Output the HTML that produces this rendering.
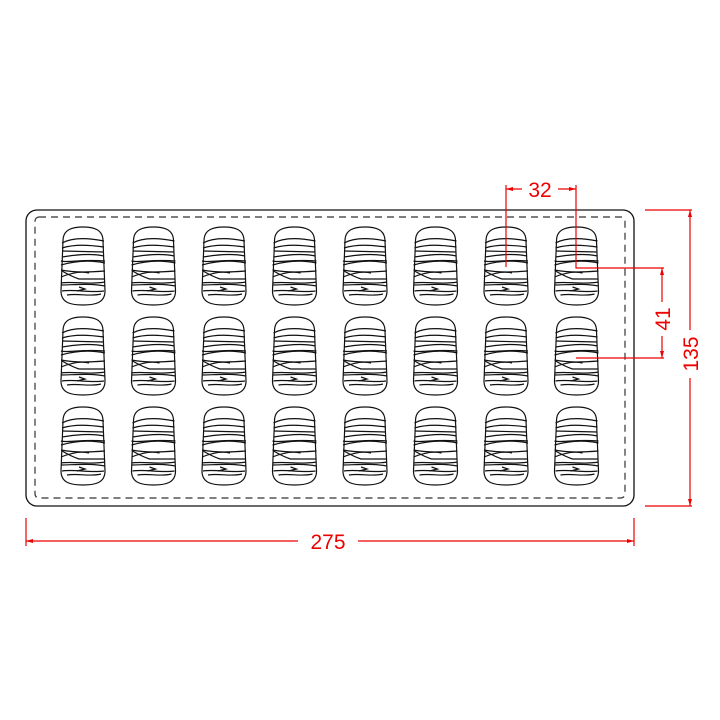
<!DOCTYPE html>
<html><head><style>html,body{margin:0;padding:0;background:#fff}svg{display:block}</style></head><body>
<svg width="720" height="720" viewBox="0 0 720 720" xmlns="http://www.w3.org/2000/svg">
<defs>
<g id="c" fill="none" stroke="#111" stroke-width="1.2">
<path d="M4,14 C4,2 14,0 24,0 C34,0 44,2 44,14 L46,64 C46,76 36,78 24,78 C12,78 2,76 2,64 Z" transform="translate(-24,-39)"/>
<g transform="translate(-24,-39)">
<path d="M3,16 C14,10 30,11 45,14"/>
<path d="M3,21 C16,17 30,18 45,20"/>
<path d="M3,24 L45,25"/>
<path d="M3,30 C14,28 32,26 45,29"/>
<path d="M2,34 C10,36 22,32 46,34"/>
<path d="M2,38 C16,34 32,33 46,36"/>
<path d="M2,43 C18,46 32,45 46,44"/>
<path d="M2,50 C12,46 22,44 30,46"/>
<path d="M3,44 C10,48 14,50 20,52 L46,52"/>
<path d="M2,56 C14,54 30,58 46,55"/>
<path d="M2,58 C14,58 30,56 46,59"/>
<path d="M3,64 C16,62 30,66 45,64"/>
<path d="M8,68 C20,66 30,70 42,67"/>
<path d="M20,60 L26,62 L18,64"/>
</g>
</g>
</defs>
<rect x="26" y="210" width="608" height="296" rx="11" fill="none" stroke="#111" stroke-width="1.3"/>
<rect x="35" y="217" width="590" height="281" rx="4" fill="none" stroke="#333" stroke-width="1.2" stroke-dasharray="7,5"/>
<g>
<use href="#c" x="83" y="266"/><use href="#c" x="153.5" y="266"/><use href="#c" x="224" y="266"/><use href="#c" x="294.5" y="266"/><use href="#c" x="365" y="266"/><use href="#c" x="435.5" y="266"/><use href="#c" x="506" y="266"/><use href="#c" x="576.5" y="266"/>
<use href="#c" x="83" y="356"/><use href="#c" x="153.5" y="356"/><use href="#c" x="224" y="356"/><use href="#c" x="294.5" y="356"/><use href="#c" x="365" y="356"/><use href="#c" x="435.5" y="356"/><use href="#c" x="506" y="356"/><use href="#c" x="576.5" y="356"/>
<use href="#c" x="83" y="446"/><use href="#c" x="153.5" y="446"/><use href="#c" x="224" y="446"/><use href="#c" x="294.5" y="446"/><use href="#c" x="365" y="446"/><use href="#c" x="435.5" y="446"/><use href="#c" x="506" y="446"/><use href="#c" x="576.5" y="446"/>
</g>
<g stroke="#e00" stroke-width="1.2" fill="none">
<path d="M506,185 V267 M576,185 V268 H664 M576,358 H664"/>
<path d="M506,189 H522 M558,189 H576"/>
<path d="M662,268 V302 M662,336 V358"/>
<path d="M645,210 H692 M645,506 H692 M690,210 V330 M690,378 V506"/>
<path d="M26,518 V546 M634,518 V546 M26,541 H298 M358,541 H634"/>
</g>
<g fill="#e00">
<path d="M506,189 l7,-2 v4z M576,189 l-7,-2 v4z"/>
<path d="M662,268 l-2,7 h4z M662,358 l-2,-7 h4z"/>
<path d="M690,210 l-2,7 h4z M690,506 l-2,-7 h4z"/>
<path d="M26,541 l7,-2 v4z M634,541 l-7,-2 v4z"/>
</g>
<g fill="#e00" font-family="Liberation Sans, sans-serif" font-size="21" text-anchor="middle">
<text x="540" y="197">32</text>
<text x="328" y="549">275</text>
<text transform="translate(670,319) rotate(-90)">41</text>
<text transform="translate(698,354) rotate(-90)">135</text>
</g>
</svg>
</body></html>
